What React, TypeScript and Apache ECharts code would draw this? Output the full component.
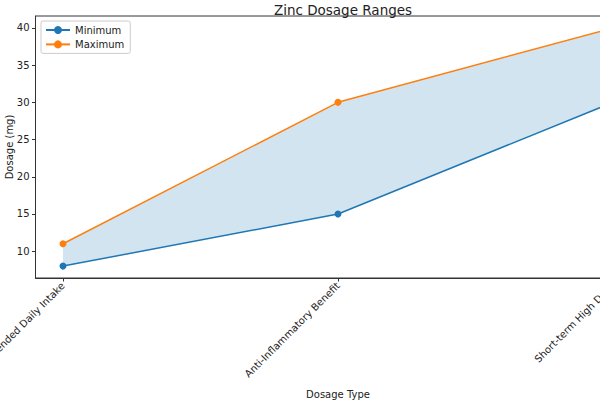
import React, { useEffect, useRef } from "react";
import * as echarts from "echarts";

const categories = [
  "Recommended Daily Intake",
  "Anti-Inflammatory Benefit",
  "Short-term High Dose",
];
const minimumValues = [8, 15, 30];
const maximumValues = [11, 30, 40];
const yTicks = [10, 15, 20, 25, 30, 35, 40];
const xTicks = [0, 1, 2];

const FONT = "DejaVu Sans";
const BLUE = "#1f77b4";
const ORANGE = "#ff7f0e";

export default function App() {
  const ref = useRef<HTMLDivElement>(null);
  useEffect(() => {
    if (!ref.current) return;
    const chart = echarts.init(ref.current, null, { renderer: "svg" });
    const minData = minimumValues.map((v, i) => [i, v]);
    const maxData = maximumValues.map((v, i) => [i, v]);
    chart.setOption({
      animation: false,
      backgroundColor: "#fff",
      textStyle: { fontFamily: FONT },
      title: {
        text: "Zinc Dosage Ranges",
        left: 338,
        textAlign: "center",
        top: -2,
        textStyle: { fontFamily: FONT, fontSize: 13.5, fontWeight: "normal", color: "#222" },
      },
      legend: {
        orient: "vertical",
        left: 41,
        top: 21,
        padding: [4, 6, 4, 4],
        itemWidth: 24,
        itemHeight: 10,
        itemGap: 4.4,
        borderColor: "#ccc",
        borderWidth: 1,
        borderRadius: 2,
        backgroundColor: "rgba(255,255,255,0.8)",
        data: ["Minimum", "Maximum"],
        textStyle: { fontFamily: FONT, fontSize: 10, color: "#222", lineHeight: 10 },
      },
      grid: {
        left: 35.5,
        top: 16,
        right: -40.5,
        bottom: 122,
        containLabel: false,
        outerBoundsMode: "none",
        show: true,
        borderColor: "#333",
        borderWidth: 1,
        backgroundColor: "transparent",
      },
      xAxis: {
        type: "value",
        min: -0.1,
        max: 2.1,
        name: "Dosage Type",
        nameLocation: "middle",
        nameGap: 111,
        nameMoveOverlap: false,
        nameTextStyle: { fontFamily: FONT, fontSize: 10, color: "#222" },
        splitLine: { show: false },
        axisLine: { show: true, onZero: false, lineStyle: { color: "#333", width: 1 } },
        axisTick: { show: true, customValues: xTicks, length: 3.5, lineStyle: { color: "#333" } },
        axisLabel: {
          customValues: xTicks,
          rotate: 45,
          fontFamily: FONT,
          fontSize: 10,
          color: "#222",
          margin: 6,
          formatter: (v: number) => categories[Math.round(v)] ?? "",
        },
      },
      yAxis: {
        type: "value",
        min: 6.4,
        max: 41.6,
        name: "Dosage (mg)",
        nameLocation: "middle",
        nameGap: 21.5,
        nameMoveOverlap: false,
        nameRotate: 90,
        nameTextStyle: { fontFamily: FONT, fontSize: 10, color: "#222" },
        splitLine: { show: false },
        axisLine: { show: true, onZero: false, lineStyle: { color: "#333", width: 1 } },
        axisTick: { show: true, customValues: yTicks, length: 3.5, lineStyle: { color: "#333" } },
        axisLabel: {
          customValues: yTicks,
          fontFamily: FONT,
          fontSize: 10,
          color: "#222",
          margin: 6,
        },
      },
      series: [
        {
          name: "band",
          type: "custom",
          data: [[0, minimumValues[0]]],
          silent: true,
          z: 1,
          renderItem: (params: any, api: any) => {
            const pts: number[][] = [];
            for (let i = 0; i < minimumValues.length; i++) pts.push(api.coord([i, minimumValues[i]]));
            for (let i = maximumValues.length - 1; i >= 0; i--) pts.push(api.coord([i, maximumValues[i]]));
            return {
              type: "polygon",
              shape: { points: pts },
              style: { fill: BLUE, opacity: 0.2, stroke: "none" },
            };
          },
        },
        {
          name: "Minimum",
          type: "line",
          data: minData,
          color: BLUE,
          symbol: "circle",
          symbolSize: 7,
          lineStyle: { width: 1.5, color: BLUE },
          itemStyle: { color: BLUE },
          z: 3,
        },
        {
          name: "Maximum",
          type: "line",
          data: maxData,
          color: ORANGE,
          symbol: "circle",
          symbolSize: 7,
          lineStyle: { width: 1.5, color: ORANGE },
          itemStyle: { color: ORANGE },
          z: 3,
        },
      ],
    });
    return () => chart.dispose();
  }, []);
  return (
    <div
      ref={ref}
      style={{ position: "fixed", left: 0, top: 0, width: 600, height: 400 }}
    />
  );
}
